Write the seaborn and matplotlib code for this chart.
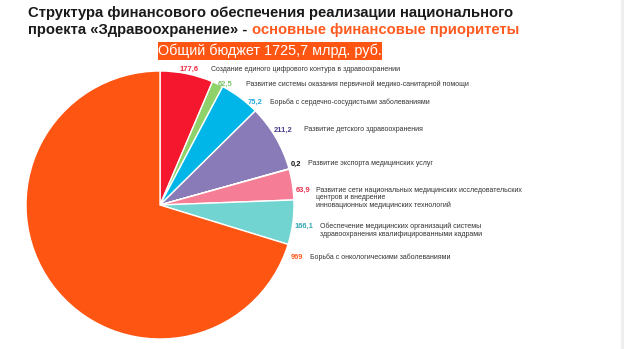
import matplotlib
matplotlib.use("Agg")
import matplotlib.pyplot as plt
from matplotlib.patches import Rectangle
import seaborn as sns

# ---- data ----
categories = [
    "Создание единого цифрового контура в здравоохранении",
    "Развитие системы оказания первичной медико-санитарной помощи",
    "Борьба с сердечно-сосудистыми заболеваниями",
    "Развитие детского здравоохранения",
    "Развитие экспорта медицинских услуг",
    "Развитие сети национальных медицинских исследовательских\nцентров и внедрение\nинновационных медицинских технологий",
    "Обеспечение медицинских организаций системы\nздравоохранения квалифицированными кадрами",
    "Борьба с онкологическими заболеваниями",
]
value_labels = ["177,6", "62,5", "75,2", "211,2", "0,2", "63,9", "166,1", "969"]
# slice shares as drawn in the picture (percent of circle)
slice_share_pct = [6.4, 1.35, 4.85, 8.05, 0.05, 3.7, 5.35, 70.25]
slice_colors = ["#F4172E", "#8FD16A", "#00B6E8", "#887BB7", "#887BB7",
                "#F67D96", "#72D4D0", "#FF5512"]
label_colors = ["#E8253C", "#7CC46A", "#1FA8E0", "#4B3F8F", "#111111",
                "#E62E4D", "#35A9B3", "#FF5A1F"]
title_line1 = "Структура финансового обеспечения реализации национального"
title_line2a = "проекта «Здравоохранение» - "
title_line2b = "основные финансовые приоритеты"
budget_text = "Общий бюджет 1725,7 млрд. руб."

# ---- style ----
sns.set_theme(style="white")
plt.rcParams["font.family"] = ["Liberation Sans", "DejaVu Sans"]

W, H = 624, 349
fig = plt.figure(figsize=(W / 100, H / 100), dpi=100)
fig.patch.set_facecolor("white")

def fx(x):
    return x / W

def fy(y):
    return 1 - y / H

# light strip at right edge
fig.patches.append(Rectangle((fx(620.5), 0), 1 - fx(620.5), 1,
                             transform=fig.transFigure, fc="#EFEFEF", ec="none"))

# ---- pie ----
cx, cy, r = 160, 205, 134
ax = fig.add_axes([fx(cx - r), fy(cy + r), 2 * r / W, 2 * r / H])
ax.pie(slice_share_pct, colors=slice_colors, startangle=90, counterclock=False,
       radius=1, wedgeprops=dict(edgecolor="white", linewidth=1.0))
ax.set_xlim(-1, 1)
ax.set_ylim(-1, 1)
ax.set_aspect("equal")
ax.axis("off")

# ---- labels ----
# (value right edge x, description left x, y of first line) in pixels
label_pos = [
    (199, 211, 69.5),
    (233, 246, 84),
    (262, 270, 102.5),
    (292, 304, 130),
    (301, 308, 164),
    (310, 316, 190.5),
    (313, 320, 226.5),
    (303, 310, 257.5),
]
for cat, val, col, (xv, xt, y) in zip(categories, value_labels, label_colors, label_pos):
    fig.text(fx(xv), fy(y), val, ha="right", va="center", fontsize=5.4,
             fontweight="bold", color=col)
    fig.text(fx(xt), fy(y - 3.7), cat, ha="left", va="top", fontsize=5.05,
             color="#333333", linespacing=1.08)

# ---- title ----
fig.text(fx(28), fy(16.7), title_line1, ha="left", va="baseline",
         fontsize=10.75, fontweight="bold", color="#1A1A1A")
t2 = fig.text(fx(28), fy(34.3), title_line2a, ha="left", va="baseline",
              fontsize=10.75, fontweight="bold", color="#1A1A1A")
fig.canvas.draw()
bb = t2.get_window_extent(renderer=fig.canvas.get_renderer())
x_end = bb.x1 / fig.dpi / fig.get_figwidth()
fig.text(x_end, fy(34.3), title_line2b, ha="left", va="baseline",
         fontsize=10.75, fontweight="bold", color="#FF5A1F")

# ---- budget box ----
fig.patches.append(Rectangle((fx(158), fy(59.5)), (382 - 158) / W, 17.5 / H,
                             transform=fig.transFigure, fc="#FF5512", ec="none"))
fig.text(fx(270), fy(50.8), budget_text, ha="center", va="center",
         fontsize=10.4, color="white")

fig.savefig("out.png", dpi=100, facecolor="white")
